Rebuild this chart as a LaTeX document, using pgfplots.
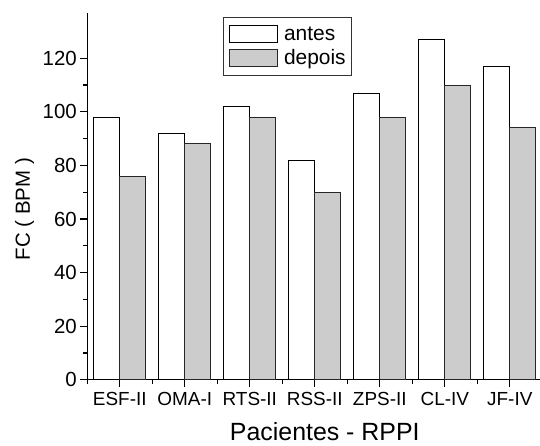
\documentclass[border=0pt]{standalone}
\usepackage{fontspec}
\setmainfont{Liberation Sans}
\usepackage{pgfplots}
\pgfplotsset{compat=1.18}
\definecolor{bargray}{RGB}{204,204,204}

\begin{document}
\begin{tikzpicture}
\begin{axis}[
  ybar=0pt, bar width=0.4,
  scale only axis, width=452.4bp, height=367bp,
  xmin=0.5, xmax=7.46, ymin=0, ymax=137,
  axis lines=left,
  axis line style={-, line width=1.5bp},
  x axis line style={-}, y axis line style={-},
  tick align=outside,
  major tick length=7bp, minor tick length=4bp,
  every tick/.style={black, line width=1.2bp},
  xtick={1,...,7},
  minor xtick={0.5,1.5,...,6.5},
  xticklabels={ESF-II,OMA-I,RTS-II,RSS-II,ZPS-II,CL-IV,JF-IV},
  ytick={0,20,...,120},
  minor y tick num=1,
  /pgf/number format/assume math mode=true,
  xticklabel style={font=\fontsize{19}{22}\selectfont, yshift=-2bp},
  yticklabel style={font=\fontsize{20.5}{24}\selectfont},
  xlabel={Pacientes - RPPI},
  ylabel={FC ( BPM )},
  xlabel style={font=\fontsize{25}{28}\selectfont, at={(rel axis cs:0.525,-0.1643)}, anchor=base},
  ylabel style={font=\fontsize{20.5}{24}\selectfont, at={(rel axis cs:-0.1267,0.465)}, anchor=base},
  legend image code/.code={\draw[#1] (0bp,-2bp) rectangle (48bp,15.7bp);},
  legend style={at={(0.299,0.987)}, anchor=north west, draw=black!80, line width=1bp,
    font=\fontsize{21}{24}\selectfont, inner xsep=6bp, inner ysep=6bp,
    nodes={inner sep=0pt, text height=17bp, text depth=5bp},
    cells={anchor=base west},
    row sep=2bp, column sep=6bp},
]
\addplot[fill=white, draw=black, line width=1bp] coordinates {
  (1,98) (2,92) (3,102) (4,82) (5,107) (6,127) (7,117)
};
\addplot[fill=bargray, draw=black!85, line width=1bp] coordinates {
  (1,76) (2,88) (3,98) (4,70) (5,98) (6,110) (7,94)
};
\legend{antes,depois}
\end{axis}
\pgfresetboundingbox
\path (-87.3bp,-66.3bp) rectangle ++(540bp,446bp);
\end{tikzpicture}
\end{document}
